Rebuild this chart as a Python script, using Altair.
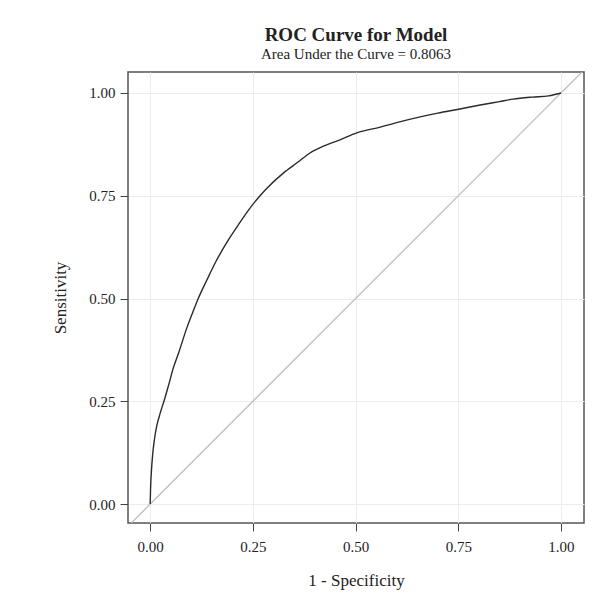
import altair as alt
import pandas as pd

# ROC curve points
fpr = [0, 0.001, 0.003, 0.006, 0.01, 0.016, 0.024, 0.035, 0.045, 0.056, 0.07, 0.089,
       0.105, 0.117, 0.138, 0.16, 0.19, 0.215, 0.243, 0.28, 0.324, 0.36, 0.389, 0.425,
       0.462, 0.503, 0.56, 0.6, 0.657, 0.7, 0.754, 0.8, 0.85, 0.883, 0.93, 0.97, 1.0]
tpr = [0, 0.04, 0.08, 0.12, 0.155, 0.19, 0.22, 0.255, 0.29, 0.33, 0.37, 0.428,
       0.47, 0.5, 0.545, 0.59, 0.642, 0.68, 0.72, 0.764, 0.805, 0.832, 0.854, 0.872,
       0.886, 0.903, 0.917, 0.928, 0.942, 0.951, 0.961, 0.97, 0.979, 0.985, 0.99, 0.993, 1.0]

# chance diagonal (y = x), extended across the padded domain
diag = [-0.06, 1.06]

ticks = [0, 0.25, 0.5, 0.75, 1.0]
title_text = "ROC Curve for Model"
subtitle_text = "Area Under the Curve = 0.8063"

roc = pd.DataFrame({"fpr": fpr, "tpr": tpr})
ref = pd.DataFrame({"fpr": diag, "tpr": diag})

FONT = "Liberation Serif"
W, H = 456, 451

xscale = alt.Scale(domain=[-0.054, 1.056], nice=False, zero=False)
yscale = alt.Scale(domain=[-0.046, 1.051], nice=False, zero=False)

xaxis = alt.Axis(values=ticks, format=".2f", title="1 - Specificity", grid=True,
                 domain=False, tickSize=8, tickColor="#444444", labelPadding=8,
                 labelFontSize=15, labelFont=FONT, labelColor="#222222",
                 titleFont=FONT, titleFontSize=17, titleFontWeight="normal",
                 titleColor="#222222", titleX=W / 2, titleY=62,
                 titleBaseline="alphabetic", gridColor="#ececec")
yaxis = alt.Axis(values=ticks, format=".2f", title="Sensitivity", grid=True,
                 domain=False, tickSize=8, tickColor="#444444", labelPadding=5,
                 labelFontSize=15, labelFont=FONT, labelColor="#222222",
                 titleFont=FONT, titleFontSize=17, titleFontWeight="normal",
                 titleColor="#222222", titleX=-68, titleY=H / 2,
                 titleBaseline="middle", titleAngle=-90, gridColor="#ececec")

diag_layer = alt.Chart(ref).mark_line(color="#b8b8b8", strokeWidth=1.2, clip=True).encode(
    x=alt.X("fpr:Q", scale=xscale, axis=xaxis),
    y=alt.Y("tpr:Q", scale=yscale, axis=yaxis),
)
roc_layer = alt.Chart(roc).mark_line(color="#2a2a2a", strokeWidth=1.4, interpolate="monotone").encode(
    x=alt.X("fpr:Q", scale=xscale),
    y=alt.Y("tpr:Q", scale=yscale),
    order="fpr:Q",
)

chart = alt.layer(diag_layer, roc_layer).properties(
    width=W,
    height=H,
    background="white",
    autosize=alt.AutoSizeParams(type="none"),
    padding={"left": 120, "top": 64, "right": 8, "bottom": 70},
    title=alt.TitleParams(
        text=title_text,
        subtitle=subtitle_text,
        font=FONT,
        fontSize=19,
        fontWeight="bold",
        color="#222222",
        subtitleFont=FONT,
        subtitleFontSize=15,
        subtitleColor="#222222",
        subtitlePadding=2,
        anchor="middle",
        offset=10,
    ),
).configure_view(
    stroke="#555555", strokeWidth=1.5
)

chart.save("out.html", embed_options={"renderer": "svg", "actions": False})
